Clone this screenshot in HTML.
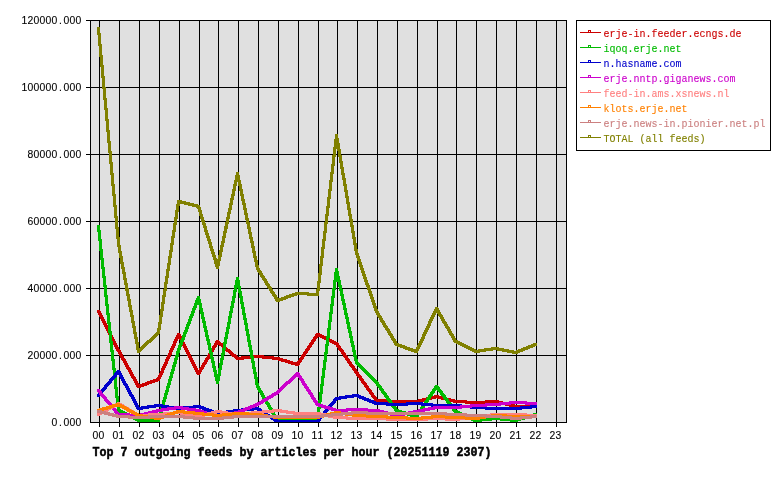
<!DOCTYPE html>
<html><head><meta charset="utf-8"><title>Top 7 outgoing feeds by articles per hour</title>
<style>
html,body{margin:0;padding:0;background:#fff;}
svg{display:block;}
text{font-family:"Liberation Mono","DejaVu Sans Mono",monospace;}
.s{font-size:10px;stroke-width:0.1px;}
.b{font-size:11.67px;font-weight:bold;stroke:#000;stroke-width:0.45px;}
.d{font-family:"Liberation Sans","DejaVu Sans",sans-serif;}
.s.d{font-size:10.4px;}
</style></head>
<body>
<svg width="780" height="480" viewBox="0 0 780 480">
<rect x="0" y="0" width="780" height="480" fill="#ffffff"/>
<g shape-rendering="crispEdges">
<rect x="90" y="20" width="477" height="403" fill="#e0e0e0"/>
<g stroke="#000000" stroke-width="1" fill="none">
<line x1="99.5" y1="20" x2="99.5" y2="427"/>
<line x1="119.5" y1="20" x2="119.5" y2="427"/>
<line x1="139.5" y1="20" x2="139.5" y2="427"/>
<line x1="159.5" y1="20" x2="159.5" y2="427"/>
<line x1="179.5" y1="20" x2="179.5" y2="427"/>
<line x1="199.5" y1="20" x2="199.5" y2="427"/>
<line x1="218.5" y1="20" x2="218.5" y2="427"/>
<line x1="238.5" y1="20" x2="238.5" y2="427"/>
<line x1="258.5" y1="20" x2="258.5" y2="427"/>
<line x1="278.5" y1="20" x2="278.5" y2="427"/>
<line x1="298.5" y1="20" x2="298.5" y2="427"/>
<line x1="318.5" y1="20" x2="318.5" y2="427"/>
<line x1="337.5" y1="20" x2="337.5" y2="427"/>
<line x1="357.5" y1="20" x2="357.5" y2="427"/>
<line x1="377.5" y1="20" x2="377.5" y2="427"/>
<line x1="397.5" y1="20" x2="397.5" y2="427"/>
<line x1="417.5" y1="20" x2="417.5" y2="427"/>
<line x1="437.5" y1="20" x2="437.5" y2="427"/>
<line x1="456.5" y1="20" x2="456.5" y2="427"/>
<line x1="476.5" y1="20" x2="476.5" y2="427"/>
<line x1="496.5" y1="20" x2="496.5" y2="427"/>
<line x1="516.5" y1="20" x2="516.5" y2="427"/>
<line x1="536.5" y1="20" x2="536.5" y2="427"/>
<line x1="556.5" y1="20" x2="556.5" y2="427"/>
<line x1="86" y1="20.5" x2="567" y2="20.5"/>
<line x1="86" y1="87.5" x2="567" y2="87.5"/>
<line x1="86" y1="154.5" x2="567" y2="154.5"/>
<line x1="86" y1="221.5" x2="567" y2="221.5"/>
<line x1="86" y1="288.5" x2="567" y2="288.5"/>
<line x1="86" y1="355.5" x2="567" y2="355.5"/>
<line x1="90" y1="422.5" x2="567" y2="422.5"/>
<rect x="90.5" y="20.5" width="476" height="402"/>
</g>
<g stroke="none">
<path fill="#cc0000" d="M97,310.5 100,310.5 120,349.5 120,351.5 117,351.5 97,312.5zM117,349.5 120,349.5 140,385.5 140,387.5 137,387.5 117,351.5zM137.5,385 157.5,378 159.5,378 159.5,381 139.5,388 137.5,388zM157,378.5 177,333.5 180,333.5 180,335.5 160,380.5 157,380.5zM177,333.5 180,333.5 200,372.5 200,374.5 197,374.5 177,335.5zM197,372.5 216,340.5 219,340.5 219,342.5 200,374.5 197,374.5zM216.5,340 218.5,340 238.5,357 238.5,360 236.5,360 216.5,343zM236.5,357 256.5,355 258.5,355 258.5,358 238.5,360 236.5,360zM256.5,355 258.5,355 278.5,357 278.5,360 276.5,360 256.5,358zM276.5,357 278.5,357 298.5,363 298.5,366 296.5,366 276.5,360zM296,363.5 316,333.5 319,333.5 319,335.5 299,365.5 296,365.5zM316.5,333 318.5,333 337.5,342 337.5,345 335.5,345 316.5,336zM335,342.5 338,342.5 358,371.5 358,373.5 355,373.5 335,344.5zM355,371.5 358,371.5 378,399.5 378,401.5 375,401.5 355,373.5zM375.5,399 377.5,399 397.5,400 397.5,403 395.5,403 375.5,402zM395.5,400 417.5,400 417.5,403 395.5,403zM415.5,400 435.5,395 437.5,395 437.5,398 417.5,403 415.5,403zM435.5,395 437.5,395 456.5,400 456.5,403 454.5,403 435.5,398zM454.5,400 456.5,400 476.5,401 476.5,404 474.5,404 454.5,403zM474.5,401 494.5,400 496.5,400 496.5,403 476.5,404 474.5,404zM494.5,400 496.5,400 516.5,405 516.5,408 514.5,408 494.5,403zM514.5,405 534.5,404 536.5,404 536.5,407 516.5,408 514.5,408zM97,310h3v3h-3zM117,349h3v3h-3zM137,385h3v3h-3zM157,378h3v3h-3zM177,333h3v3h-3zM197,372h3v3h-3zM216,340h3v3h-3zM236,357h3v3h-3zM256,355h3v3h-3zM276,357h3v3h-3zM296,363h3v3h-3zM316,333h3v3h-3zM335,342h3v3h-3zM355,371h3v3h-3zM375,399h3v3h-3zM395,400h3v3h-3zM415,400h3v3h-3zM435,395h3v3h-3zM454,400h3v3h-3zM474,401h3v3h-3zM494,400h3v3h-3zM514,405h3v3h-3zM534,404h3v3h-3z"/>
<path fill="#00bb00" d="M97,225.5 100,225.5 120,409.5 120,411.5 117,411.5 97,227.5zM117.5,409 119.5,409 139.5,419 139.5,422 137.5,422 117.5,412zM137.5,419 159.5,419 159.5,422 137.5,422zM157,419.5 177,349.5 180,349.5 180,351.5 160,421.5 157,421.5zM177,349.5 197,296.5 200,296.5 200,298.5 180,351.5 177,351.5zM197,296.5 200,296.5 219,381.5 219,383.5 216,383.5 197,298.5zM216,381.5 236,277.5 239,277.5 239,279.5 219,383.5 216,383.5zM236,277.5 239,277.5 259,385.5 259,387.5 256,387.5 236,279.5zM256,385.5 259,385.5 279,419.5 279,421.5 276,421.5 256,387.5zM276.5,419 298.5,419 298.5,422 276.5,422zM296.5,419 318.5,419 318.5,422 296.5,422zM316,419.5 335,268.5 338,268.5 338,270.5 319,421.5 316,421.5zM335,268.5 338,268.5 358,361.5 358,363.5 355,363.5 335,270.5zM355.5,361 357.5,361 377.5,381 377.5,384 375.5,384 355.5,364zM375,381.5 378,381.5 398,409.5 398,411.5 395,411.5 375,383.5zM395.5,409 397.5,409 417.5,415 417.5,418 415.5,418 395.5,412zM415,415.5 435,385.5 438,385.5 438,387.5 418,417.5 415,417.5zM435,385.5 438,385.5 457,410.5 457,412.5 454,412.5 435,387.5zM454.5,410 456.5,410 476.5,419 476.5,422 474.5,422 454.5,413zM474.5,419 494.5,417 496.5,417 496.5,420 476.5,422 474.5,422zM494.5,417 496.5,417 516.5,419 516.5,422 514.5,422 494.5,420zM514.5,419 534.5,413 536.5,413 536.5,416 516.5,422 514.5,422zM97,225h3v3h-3zM117,409h3v3h-3zM137,419h3v3h-3zM157,419h3v3h-3zM177,349h3v3h-3zM197,296h3v3h-3zM216,381h3v3h-3zM236,277h3v3h-3zM256,385h3v3h-3zM276,419h3v3h-3zM296,419h3v3h-3zM316,419h3v3h-3zM335,268h3v3h-3zM355,361h3v3h-3zM375,381h3v3h-3zM395,409h3v3h-3zM415,415h3v3h-3zM435,385h3v3h-3zM454,410h3v3h-3zM474,419h3v3h-3zM494,417h3v3h-3zM514,419h3v3h-3zM534,413h3v3h-3z"/>
<path fill="#0000cc" d="M97,394.5 117,370.5 120,370.5 120,372.5 100,396.5 97,396.5zM117,370.5 120,370.5 140,407.5 140,409.5 137,409.5 117,372.5zM137.5,407 157.5,404 159.5,404 159.5,407 139.5,410 137.5,410zM157.5,404 159.5,404 179.5,407 179.5,410 177.5,410 157.5,407zM177.5,407 197.5,405 199.5,405 199.5,408 179.5,410 177.5,410zM197.5,405 199.5,405 218.5,412 218.5,415 216.5,415 197.5,408zM216.5,412 236.5,409 238.5,409 238.5,412 218.5,415 216.5,415zM236.5,409 256.5,407 258.5,407 258.5,410 238.5,412 236.5,412zM256.5,407 258.5,407 278.5,420 278.5,423 276.5,423 256.5,410zM276.5,420 298.5,420 298.5,423 276.5,423zM296.5,420 318.5,420 318.5,423 296.5,423zM316,420.5 335,397.5 338,397.5 338,399.5 319,422.5 316,422.5zM335.5,397 355.5,394 357.5,394 357.5,397 337.5,400 335.5,400zM355.5,394 357.5,394 377.5,402 377.5,405 375.5,405 355.5,397zM375.5,402 377.5,402 397.5,403 397.5,406 395.5,406 375.5,405zM395.5,403 415.5,402 417.5,402 417.5,405 397.5,406 395.5,406zM415.5,402 417.5,402 437.5,404 437.5,407 435.5,407 415.5,405zM435.5,404 456.5,404 456.5,407 435.5,407zM454.5,404 456.5,404 476.5,406 476.5,409 474.5,409 454.5,407zM474.5,406 476.5,406 496.5,407 496.5,410 494.5,410 474.5,409zM494.5,407 516.5,407 516.5,410 494.5,410zM514.5,407 534.5,405 536.5,405 536.5,408 516.5,410 514.5,410zM97,394h3v3h-3zM117,370h3v3h-3zM137,407h3v3h-3zM157,404h3v3h-3zM177,407h3v3h-3zM197,405h3v3h-3zM216,412h3v3h-3zM236,409h3v3h-3zM256,407h3v3h-3zM276,420h3v3h-3zM296,420h3v3h-3zM316,420h3v3h-3zM335,397h3v3h-3zM355,394h3v3h-3zM375,402h3v3h-3zM395,403h3v3h-3zM415,402h3v3h-3zM435,404h3v3h-3zM454,404h3v3h-3zM474,406h3v3h-3zM494,407h3v3h-3zM514,407h3v3h-3zM534,405h3v3h-3z"/>
<path fill="#cc00cc" d="M97,389.5 100,389.5 120,413.5 120,415.5 117,415.5 97,391.5zM117.5,413 119.5,413 139.5,414 139.5,417 137.5,417 117.5,416zM137.5,414 157.5,409 159.5,409 159.5,412 139.5,417 137.5,417zM157.5,409 177.5,406 179.5,406 179.5,409 159.5,412 157.5,412zM177.5,406 179.5,406 199.5,409 199.5,412 197.5,412 177.5,409zM197.5,409 199.5,409 218.5,415 218.5,418 216.5,418 197.5,412zM216.5,415 236.5,411 238.5,411 238.5,414 218.5,418 216.5,418zM236.5,411 256.5,403 258.5,403 258.5,406 238.5,414 236.5,414zM256.5,403 276.5,391 278.5,391 278.5,394 258.5,406 256.5,406zM276.5,391 296.5,372 298.5,372 298.5,375 278.5,394 276.5,394zM296,372.5 299,372.5 319,403.5 319,405.5 316,405.5 296,374.5zM316.5,403 318.5,403 337.5,409 337.5,412 335.5,412 316.5,406zM335.5,409 355.5,408 357.5,408 357.5,411 337.5,412 335.5,412zM355.5,408 357.5,408 377.5,409 377.5,412 375.5,412 355.5,411zM375.5,409 377.5,409 397.5,414 397.5,417 395.5,417 375.5,412zM395.5,414 415.5,410 417.5,410 417.5,413 397.5,417 395.5,417zM415.5,410 435.5,406 437.5,406 437.5,409 417.5,413 415.5,413zM435.5,406 456.5,406 456.5,409 435.5,409zM454.5,406 474.5,404 476.5,404 476.5,407 456.5,409 454.5,409zM474.5,404 494.5,403 496.5,403 496.5,406 476.5,407 474.5,407zM494.5,403 514.5,401 516.5,401 516.5,404 496.5,406 494.5,406zM514.5,401 516.5,401 536.5,402 536.5,405 534.5,405 514.5,404zM97,389h3v3h-3zM117,413h3v3h-3zM137,414h3v3h-3zM157,409h3v3h-3zM177,406h3v3h-3zM197,409h3v3h-3zM216,415h3v3h-3zM236,411h3v3h-3zM256,403h3v3h-3zM276,391h3v3h-3zM296,372h3v3h-3zM316,403h3v3h-3zM335,409h3v3h-3zM355,408h3v3h-3zM375,409h3v3h-3zM395,414h3v3h-3zM415,410h3v3h-3zM435,406h3v3h-3zM454,406h3v3h-3zM474,404h3v3h-3zM494,403h3v3h-3zM514,401h3v3h-3zM534,402h3v3h-3z"/>
<path fill="#ff8080" d="M97.5,413 117.5,402 119.5,402 119.5,405 99.5,416 97.5,416zM117.5,402 119.5,402 139.5,414 139.5,417 137.5,417 117.5,405zM137.5,414 157.5,413 159.5,413 159.5,416 139.5,417 137.5,417zM157.5,413 177.5,411 179.5,411 179.5,414 159.5,416 157.5,416zM177.5,411 179.5,411 199.5,415 199.5,418 197.5,418 177.5,414zM197.5,415 216.5,410 218.5,410 218.5,413 199.5,418 197.5,418zM216.5,410 218.5,410 238.5,413 238.5,416 236.5,416 216.5,413zM236.5,413 256.5,411 258.5,411 258.5,414 238.5,416 236.5,416zM256.5,411 276.5,409 278.5,409 278.5,412 258.5,414 256.5,414zM276.5,409 278.5,409 298.5,412 298.5,415 296.5,415 276.5,412zM296.5,412 318.5,412 318.5,415 296.5,415zM316.5,412 318.5,412 337.5,416 337.5,419 335.5,419 316.5,415zM335.5,416 337.5,416 357.5,417 357.5,420 355.5,420 335.5,419zM355.5,417 377.5,417 377.5,420 355.5,420zM375.5,417 377.5,417 397.5,418 397.5,421 395.5,421 375.5,420zM395.5,418 417.5,418 417.5,421 395.5,421zM415.5,418 435.5,417 437.5,417 437.5,420 417.5,421 415.5,421zM435.5,417 437.5,417 456.5,418 456.5,421 454.5,421 435.5,420zM454.5,418 474.5,415 476.5,415 476.5,418 456.5,421 454.5,421zM474.5,415 494.5,413 496.5,413 496.5,416 476.5,418 474.5,418zM494.5,413 516.5,413 516.5,416 494.5,416zM514.5,413 516.5,413 536.5,414 536.5,417 534.5,417 514.5,416zM97,413h3v3h-3zM117,402h3v3h-3zM137,414h3v3h-3zM157,413h3v3h-3zM177,411h3v3h-3zM197,415h3v3h-3zM216,410h3v3h-3zM236,413h3v3h-3zM256,411h3v3h-3zM276,409h3v3h-3zM296,412h3v3h-3zM316,412h3v3h-3zM335,416h3v3h-3zM355,417h3v3h-3zM375,417h3v3h-3zM395,418h3v3h-3zM415,418h3v3h-3zM435,417h3v3h-3zM454,418h3v3h-3zM474,415h3v3h-3zM494,413h3v3h-3zM514,413h3v3h-3zM534,414h3v3h-3z"/>
<path fill="#ff8000" d="M97.5,409 117.5,403 119.5,403 119.5,406 99.5,412 97.5,412zM117.5,403 119.5,403 139.5,414 139.5,417 137.5,417 117.5,406zM137.5,414 139.5,414 159.5,417 159.5,420 157.5,420 137.5,417zM157.5,417 177.5,410 179.5,410 179.5,413 159.5,420 157.5,420zM177.5,410 179.5,410 199.5,412 199.5,415 197.5,415 177.5,413zM197.5,412 199.5,412 218.5,414 218.5,417 216.5,417 197.5,415zM216.5,414 236.5,412 238.5,412 238.5,415 218.5,417 216.5,417zM236.5,412 238.5,412 258.5,413 258.5,416 256.5,416 236.5,415zM256.5,413 258.5,413 278.5,416 278.5,419 276.5,419 256.5,416zM276.5,416 298.5,416 298.5,419 276.5,419zM296.5,416 318.5,416 318.5,419 296.5,419zM316.5,416 335.5,411 337.5,411 337.5,414 318.5,419 316.5,419zM335.5,411 337.5,411 357.5,414 357.5,417 355.5,417 335.5,414zM355.5,414 357.5,414 377.5,415 377.5,418 375.5,418 355.5,417zM375.5,415 377.5,415 397.5,416 397.5,419 395.5,419 375.5,418zM395.5,416 397.5,416 417.5,417 417.5,420 415.5,420 395.5,419zM415.5,417 435.5,415 437.5,415 437.5,418 417.5,420 415.5,420zM435.5,415 437.5,415 456.5,416 456.5,419 454.5,419 435.5,418zM454.5,416 456.5,416 476.5,417 476.5,420 474.5,420 454.5,419zM474.5,417 494.5,414 496.5,414 496.5,417 476.5,420 474.5,420zM494.5,414 496.5,414 516.5,415 516.5,418 514.5,418 494.5,417zM514.5,415 536.5,415 536.5,418 514.5,418zM97,409h3v3h-3zM117,403h3v3h-3zM137,414h3v3h-3zM157,417h3v3h-3zM177,410h3v3h-3zM197,412h3v3h-3zM216,414h3v3h-3zM236,412h3v3h-3zM256,413h3v3h-3zM276,416h3v3h-3zM296,416h3v3h-3zM316,416h3v3h-3zM335,411h3v3h-3zM355,414h3v3h-3zM375,415h3v3h-3zM395,416h3v3h-3zM415,417h3v3h-3zM435,415h3v3h-3zM454,416h3v3h-3zM474,417h3v3h-3zM494,414h3v3h-3zM514,415h3v3h-3zM534,415h3v3h-3z"/>
<path fill="#cc8080" d="M97.5,410 99.5,410 119.5,415 119.5,418 117.5,418 97.5,413zM117.5,415 119.5,415 139.5,416 139.5,419 137.5,419 117.5,418zM137.5,416 157.5,415 159.5,415 159.5,418 139.5,419 137.5,419zM157.5,415 179.5,415 179.5,418 157.5,418zM177.5,415 179.5,415 199.5,417 199.5,420 197.5,420 177.5,418zM197.5,417 218.5,417 218.5,420 197.5,420zM216.5,417 236.5,415 238.5,415 238.5,418 218.5,420 216.5,420zM236.5,415 258.5,415 258.5,418 236.5,418zM256.5,415 278.5,415 278.5,418 256.5,418zM276.5,415 298.5,415 298.5,418 276.5,418zM296.5,415 318.5,415 318.5,418 296.5,418zM316.5,415 335.5,413 337.5,413 337.5,416 318.5,418 316.5,418zM335.5,413 355.5,411 357.5,411 357.5,414 337.5,416 335.5,416zM355.5,411 357.5,411 377.5,412 377.5,415 375.5,415 355.5,414zM375.5,412 397.5,412 397.5,415 375.5,415zM395.5,412 417.5,412 417.5,415 395.5,415zM415.5,412 437.5,412 437.5,415 415.5,415zM435.5,412 437.5,412 456.5,413 456.5,416 454.5,416 435.5,415zM454.5,413 456.5,413 476.5,414 476.5,417 474.5,417 454.5,416zM474.5,414 476.5,414 496.5,415 496.5,418 494.5,418 474.5,417zM494.5,415 496.5,415 516.5,417 516.5,420 514.5,420 494.5,418zM514.5,417 534.5,415 536.5,415 536.5,418 516.5,420 514.5,420zM97,410h3v3h-3zM117,415h3v3h-3zM137,416h3v3h-3zM157,415h3v3h-3zM177,415h3v3h-3zM197,417h3v3h-3zM216,417h3v3h-3zM236,415h3v3h-3zM256,415h3v3h-3zM276,415h3v3h-3zM296,415h3v3h-3zM316,415h3v3h-3zM335,413h3v3h-3zM355,411h3v3h-3zM375,412h3v3h-3zM395,412h3v3h-3zM415,412h3v3h-3zM435,412h3v3h-3zM454,413h3v3h-3zM474,414h3v3h-3zM494,415h3v3h-3zM514,417h3v3h-3zM534,415h3v3h-3z"/>
<path fill="#808000" d="M97,27.5 100,27.5 120,242.5 120,244.5 117,244.5 97,29.5zM117,242.5 120,242.5 140,350.5 140,352.5 137,352.5 117,244.5zM137.5,350 157.5,331 159.5,331 159.5,334 139.5,353 137.5,353zM157,331.5 177,200.5 180,200.5 180,202.5 160,333.5 157,333.5zM177.5,200 179.5,200 199.5,205 199.5,208 197.5,208 177.5,203zM197,205.5 200,205.5 219,266.5 219,268.5 216,268.5 197,207.5zM216,266.5 236,172.5 239,172.5 239,174.5 219,268.5 216,268.5zM236,172.5 239,172.5 259,267.5 259,269.5 256,269.5 236,174.5zM256,267.5 259,267.5 279,299.5 279,301.5 276,301.5 256,269.5zM276.5,299 296.5,292 298.5,292 298.5,295 278.5,302 276.5,302zM296.5,292 298.5,292 318.5,293 318.5,296 316.5,296 296.5,295zM316,293.5 335,134.5 338,134.5 338,136.5 319,295.5 316,295.5zM335,134.5 338,134.5 358,251.5 358,253.5 355,253.5 335,136.5zM355,251.5 358,251.5 378,310.5 378,312.5 375,312.5 355,253.5zM375,310.5 378,310.5 398,343.5 398,345.5 395,345.5 375,312.5zM395.5,343 397.5,343 417.5,350 417.5,353 415.5,353 395.5,346zM415,350.5 435,307.5 438,307.5 438,309.5 418,352.5 415,352.5zM435,307.5 438,307.5 457,340.5 457,342.5 454,342.5 435,309.5zM454.5,340 456.5,340 476.5,350 476.5,353 474.5,353 454.5,343zM474.5,350 494.5,347 496.5,347 496.5,350 476.5,353 474.5,353zM494.5,347 496.5,347 516.5,351 516.5,354 514.5,354 494.5,350zM514.5,351 534.5,343 536.5,343 536.5,346 516.5,354 514.5,354zM97,27h3v3h-3zM117,242h3v3h-3zM137,350h3v3h-3zM157,331h3v3h-3zM177,200h3v3h-3zM197,205h3v3h-3zM216,266h3v3h-3zM236,172h3v3h-3zM256,267h3v3h-3zM276,299h3v3h-3zM296,292h3v3h-3zM316,293h3v3h-3zM335,134h3v3h-3zM355,251h3v3h-3zM375,310h3v3h-3zM395,343h3v3h-3zM415,350h3v3h-3zM435,307h3v3h-3zM454,340h3v3h-3zM474,350h3v3h-3zM494,347h3v3h-3zM514,351h3v3h-3zM534,343h3v3h-3z"/>
</g>
<line x1="90" y1="422.5" x2="567" y2="422.5" stroke="#000000" stroke-width="1"/>
<rect x="576.5" y="20.5" width="194" height="130" fill="#ffffff" stroke="#000000" stroke-width="1"/>
<line x1="580" y1="32.5" x2="601" y2="32.5" stroke="#cc0000" stroke-width="1"/>
<rect x="588.5" y="30.5" width="2" height="2" fill="#ffffff" stroke="#cc0000" stroke-width="1"/>
<line x1="580" y1="47.5" x2="601" y2="47.5" stroke="#00bb00" stroke-width="1"/>
<rect x="588.5" y="45.5" width="2" height="2" fill="#ffffff" stroke="#00bb00" stroke-width="1"/>
<line x1="580" y1="62.5" x2="601" y2="62.5" stroke="#0000cc" stroke-width="1"/>
<rect x="588.5" y="60.5" width="2" height="2" fill="#ffffff" stroke="#0000cc" stroke-width="1"/>
<line x1="580" y1="77.5" x2="601" y2="77.5" stroke="#cc00cc" stroke-width="1"/>
<rect x="588.5" y="75.5" width="2" height="2" fill="#ffffff" stroke="#cc00cc" stroke-width="1"/>
<line x1="580" y1="92.5" x2="601" y2="92.5" stroke="#ff8080" stroke-width="1"/>
<rect x="588.5" y="90.5" width="2" height="2" fill="#ffffff" stroke="#ff8080" stroke-width="1"/>
<line x1="580" y1="107.5" x2="601" y2="107.5" stroke="#ff8000" stroke-width="1"/>
<rect x="588.5" y="105.5" width="2" height="2" fill="#ffffff" stroke="#ff8000" stroke-width="1"/>
<line x1="580" y1="122.5" x2="601" y2="122.5" stroke="#cc8080" stroke-width="1"/>
<rect x="588.5" y="120.5" width="2" height="2" fill="#ffffff" stroke="#cc8080" stroke-width="1"/>
<line x1="580" y1="137.5" x2="601" y2="137.5" stroke="#808000" stroke-width="1"/>
<rect x="588.5" y="135.5" width="2" height="2" fill="#ffffff" stroke="#808000" stroke-width="1"/>
</g>
<text class="s d" transform="translate(0,24.2) scale(1.0000,1.1200)" x="24.50 30.50 36.50 42.50 48.50 54.50 60.50 66.50 72.50 78.50" y="0" fill="#000000" stroke="#000000" text-anchor="middle" xml:space="preserve">120000.000</text>
<text class="s d" transform="translate(0,91.2) scale(1.0000,1.1200)" x="24.50 30.50 36.50 42.50 48.50 54.50 60.50 66.50 72.50 78.50" y="0" fill="#000000" stroke="#000000" text-anchor="middle" xml:space="preserve">100000.000</text>
<text class="s d" transform="translate(0,158.2) scale(1.0000,1.1200)" x="30.50 36.50 42.50 48.50 54.50 60.50 66.50 72.50 78.50" y="0" fill="#000000" stroke="#000000" text-anchor="middle" xml:space="preserve">80000.000</text>
<text class="s d" transform="translate(0,225.2) scale(1.0000,1.1200)" x="30.50 36.50 42.50 48.50 54.50 60.50 66.50 72.50 78.50" y="0" fill="#000000" stroke="#000000" text-anchor="middle" xml:space="preserve">60000.000</text>
<text class="s d" transform="translate(0,292.2) scale(1.0000,1.1200)" x="30.50 36.50 42.50 48.50 54.50 60.50 66.50 72.50 78.50" y="0" fill="#000000" stroke="#000000" text-anchor="middle" xml:space="preserve">40000.000</text>
<text class="s d" transform="translate(0,359.2) scale(1.0000,1.1200)" x="30.50 36.50 42.50 48.50 54.50 60.50 66.50 72.50 78.50" y="0" fill="#000000" stroke="#000000" text-anchor="middle" xml:space="preserve">20000.000</text>
<text class="s d" transform="translate(0,426.2) scale(1.0000,1.1200)" x="54.50 60.50 66.50 72.50 78.50" y="0" fill="#000000" stroke="#000000" text-anchor="middle" xml:space="preserve">0.000</text>
<text class="s d" transform="translate(0,439.2) scale(1.0000,1.1200)" x="95.50 101.50" y="0" fill="#000000" stroke="#000000" text-anchor="middle" xml:space="preserve">00</text>
<text class="s d" transform="translate(0,439.2) scale(1.0000,1.1200)" x="115.50 121.50" y="0" fill="#000000" stroke="#000000" text-anchor="middle" xml:space="preserve">01</text>
<text class="s d" transform="translate(0,439.2) scale(1.0000,1.1200)" x="135.50 141.50" y="0" fill="#000000" stroke="#000000" text-anchor="middle" xml:space="preserve">02</text>
<text class="s d" transform="translate(0,439.2) scale(1.0000,1.1200)" x="155.50 161.50" y="0" fill="#000000" stroke="#000000" text-anchor="middle" xml:space="preserve">03</text>
<text class="s d" transform="translate(0,439.2) scale(1.0000,1.1200)" x="175.50 181.50" y="0" fill="#000000" stroke="#000000" text-anchor="middle" xml:space="preserve">04</text>
<text class="s d" transform="translate(0,439.2) scale(1.0000,1.1200)" x="195.50 201.50" y="0" fill="#000000" stroke="#000000" text-anchor="middle" xml:space="preserve">05</text>
<text class="s d" transform="translate(0,439.2) scale(1.0000,1.1200)" x="214.50 220.50" y="0" fill="#000000" stroke="#000000" text-anchor="middle" xml:space="preserve">06</text>
<text class="s d" transform="translate(0,439.2) scale(1.0000,1.1200)" x="234.50 240.50" y="0" fill="#000000" stroke="#000000" text-anchor="middle" xml:space="preserve">07</text>
<text class="s d" transform="translate(0,439.2) scale(1.0000,1.1200)" x="254.50 260.50" y="0" fill="#000000" stroke="#000000" text-anchor="middle" xml:space="preserve">08</text>
<text class="s d" transform="translate(0,439.2) scale(1.0000,1.1200)" x="274.50 280.50" y="0" fill="#000000" stroke="#000000" text-anchor="middle" xml:space="preserve">09</text>
<text class="s d" transform="translate(0,439.2) scale(1.0000,1.1200)" x="294.50 300.50" y="0" fill="#000000" stroke="#000000" text-anchor="middle" xml:space="preserve">10</text>
<text class="s d" transform="translate(0,439.2) scale(1.0000,1.1200)" x="314.50 320.50" y="0" fill="#000000" stroke="#000000" text-anchor="middle" xml:space="preserve">11</text>
<text class="s d" transform="translate(0,439.2) scale(1.0000,1.1200)" x="333.50 339.50" y="0" fill="#000000" stroke="#000000" text-anchor="middle" xml:space="preserve">12</text>
<text class="s d" transform="translate(0,439.2) scale(1.0000,1.1200)" x="353.50 359.50" y="0" fill="#000000" stroke="#000000" text-anchor="middle" xml:space="preserve">13</text>
<text class="s d" transform="translate(0,439.2) scale(1.0000,1.1200)" x="373.50 379.50" y="0" fill="#000000" stroke="#000000" text-anchor="middle" xml:space="preserve">14</text>
<text class="s d" transform="translate(0,439.2) scale(1.0000,1.1200)" x="393.50 399.50" y="0" fill="#000000" stroke="#000000" text-anchor="middle" xml:space="preserve">15</text>
<text class="s d" transform="translate(0,439.2) scale(1.0000,1.1200)" x="413.50 419.50" y="0" fill="#000000" stroke="#000000" text-anchor="middle" xml:space="preserve">16</text>
<text class="s d" transform="translate(0,439.2) scale(1.0000,1.1200)" x="433.50 439.50" y="0" fill="#000000" stroke="#000000" text-anchor="middle" xml:space="preserve">17</text>
<text class="s d" transform="translate(0,439.2) scale(1.0000,1.1200)" x="452.50 458.50" y="0" fill="#000000" stroke="#000000" text-anchor="middle" xml:space="preserve">18</text>
<text class="s d" transform="translate(0,439.2) scale(1.0000,1.1200)" x="472.50 478.50" y="0" fill="#000000" stroke="#000000" text-anchor="middle" xml:space="preserve">19</text>
<text class="s d" transform="translate(0,439.2) scale(1.0000,1.1200)" x="492.50 498.50" y="0" fill="#000000" stroke="#000000" text-anchor="middle" xml:space="preserve">20</text>
<text class="s d" transform="translate(0,439.2) scale(1.0000,1.1200)" x="512.50 518.50" y="0" fill="#000000" stroke="#000000" text-anchor="middle" xml:space="preserve">21</text>
<text class="s d" transform="translate(0,439.2) scale(1.0000,1.1200)" x="532.50 538.50" y="0" fill="#000000" stroke="#000000" text-anchor="middle" xml:space="preserve">22</text>
<text class="s d" transform="translate(0,439.2) scale(1.0000,1.1200)" x="552.50 558.50" y="0" fill="#000000" stroke="#000000" text-anchor="middle" xml:space="preserve">23</text>
<text class="b" transform="translate(0,456) scale(0.9997,1.0500)" x="96.03 103.03 110.03 117.03 124.04 131.04 138.04 145.04 152.04 159.05 166.05 173.05 180.05 187.05 194.06 201.06 208.06 215.06 222.06 229.07 236.07 243.07 250.07 257.07 264.08 271.08 278.08 285.08 292.08 299.09 306.09 313.09 320.09 327.09 334.10 341.10 348.10 355.10 362.10 369.11 376.11 383.11 390.11 397.11 404.12 411.12 418.12 425.12 432.12 439.13 446.13 453.13 460.13 467.13 474.14 481.14 488.14" y="0" fill="#000000" stroke="#000000" text-anchor="middle" xml:space="preserve">Top 7 outgoing feeds by articles per hour (20251119 2307)</text>
<text class="s" transform="translate(0,37) scale(1.0000,1.1200)" x="606.50 612.50 618.50 624.50 630.50 636.50 642.50 648.50 654.50 660.50 666.50 672.50 678.50 684.50 690.50 696.50 702.50 708.50 714.50 720.50 726.50 732.50 738.50" y="0" fill="#cc0000" stroke="#cc0000" text-anchor="middle" xml:space="preserve">erje-in.feeder.ecngs.de</text>
<text class="s" transform="translate(0,52) scale(1.0000,1.1200)" x="606.50 612.50 618.50 624.50 630.50 636.50 642.50 648.50 654.50 660.50 666.50 672.50 678.50" y="0" fill="#00bb00" stroke="#00bb00" text-anchor="middle" xml:space="preserve">iqoq.erje.net</text>
<text class="s" transform="translate(0,67) scale(1.0000,1.1200)" x="606.50 612.50 618.50 624.50 630.50 636.50 642.50 648.50 654.50 660.50 666.50 672.50 678.50" y="0" fill="#0000cc" stroke="#0000cc" text-anchor="middle" xml:space="preserve">n.hasname.com</text>
<text class="s" transform="translate(0,82) scale(1.0000,1.1200)" x="606.50 612.50 618.50 624.50 630.50 636.50 642.50 648.50 654.50 660.50 666.50 672.50 678.50 684.50 690.50 696.50 702.50 708.50 714.50 720.50 726.50 732.50" y="0" fill="#cc00cc" stroke="#cc00cc" text-anchor="middle" xml:space="preserve">erje.nntp.giganews.com</text>
<text class="s" transform="translate(0,97) scale(1.0000,1.1200)" x="606.50 612.50 618.50 624.50 630.50 636.50 642.50 648.50 654.50 660.50 666.50 672.50 678.50 684.50 690.50 696.50 702.50 708.50 714.50 720.50 726.50" y="0" fill="#ff8080" stroke="#ff8080" text-anchor="middle" xml:space="preserve">feed-in.ams.xsnews.nl</text>
<text class="s" transform="translate(0,112) scale(1.0000,1.1200)" x="606.50 612.50 618.50 624.50 630.50 636.50 642.50 648.50 654.50 660.50 666.50 672.50 678.50 684.50" y="0" fill="#ff8000" stroke="#ff8000" text-anchor="middle" xml:space="preserve">klots.erje.net</text>
<text class="s" transform="translate(0,127) scale(1.0000,1.1200)" x="606.50 612.50 618.50 624.50 630.50 636.50 642.50 648.50 654.50 660.50 666.50 672.50 678.50 684.50 690.50 696.50 702.50 708.50 714.50 720.50 726.50 732.50 738.50 744.50 750.50 756.50 762.50" y="0" fill="#cc8080" stroke="#cc8080" text-anchor="middle" xml:space="preserve">erje.news-in.pionier.net.pl</text>
<text class="s" transform="translate(0,142) scale(1.0000,1.1200)" x="606.50 612.50 618.50 624.50 630.50 636.50 642.50 648.50 654.50 660.50 666.50 672.50 678.50 684.50 690.50 696.50 702.50" y="0" fill="#808000" stroke="#808000" text-anchor="middle" xml:space="preserve">TOTAL (all feeds)</text>
</svg>
</body></html>
